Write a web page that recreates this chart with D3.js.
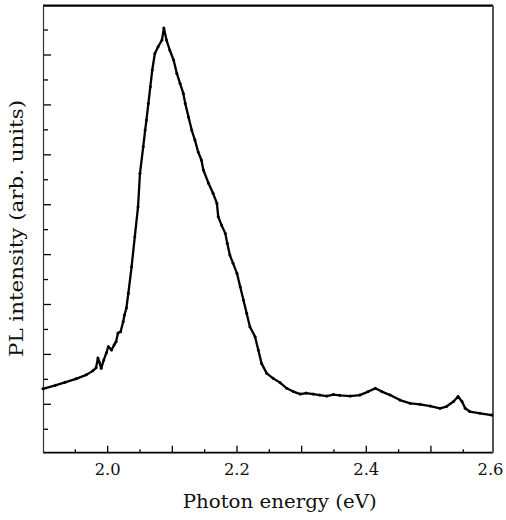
<!DOCTYPE html>
<html>
<head>
<meta charset="utf-8">
<script src="https://cdn.jsdelivr.net/npm/d3@7"></script>
<style>
html,body{margin:0;padding:0;background:#fff;}
svg{display:block;}
</style>
</head>
<body>
<svg id="chart" width="506" height="520"></svg>
<script>
// Photon energy (eV) and PL intensity (arb. units)
const energy = [1.900,1.919,1.934,1.951,1.967,1.977,1.982,1.985,1.987,1.990,1.994,1.998,2.001,2.006,2.010,2.013,2.016,2.020,2.024,2.026,2.029,2.032,2.037,2.042,2.047,2.050,2.055,2.058,2.060,2.063,2.066,2.069,2.073,2.078,2.084,2.087,2.091,2.096,2.102,2.107,2.112,2.117,2.120,2.125,2.130,2.135,2.140,2.145,2.148,2.156,2.163,2.169,2.171,2.176,2.182,2.185,2.189,2.194,2.200,2.205,2.210,2.215,2.220,2.228,2.233,2.238,2.246,2.256,2.267,2.277,2.287,2.298,2.307,2.318,2.328,2.339,2.349,2.359,2.375,2.390,2.403,2.414,2.424,2.437,2.452,2.468,2.483,2.499,2.514,2.524,2.535,2.542,2.548,2.553,2.560,2.576,2.594];
const intensity = [2.62,2.76,2.88,3.02,3.18,3.34,3.46,3.86,3.70,3.44,3.78,4.06,4.31,4.18,4.38,4.51,4.86,4.91,5.31,5.58,5.86,6.45,7.51,8.72,9.92,11.26,12.32,12.99,13.39,14.06,14.73,15.40,16.06,16.33,16.60,17.08,16.60,16.20,15.80,15.26,14.86,14.46,14.06,13.52,12.99,12.59,12.11,11.79,11.39,10.86,10.46,10.05,9.52,9.19,8.85,8.45,7.98,7.65,7.25,6.71,6.18,5.65,5.11,4.71,4.18,3.64,3.24,3.04,2.86,2.64,2.51,2.41,2.45,2.41,2.37,2.33,2.39,2.36,2.33,2.37,2.51,2.64,2.51,2.37,2.17,2.04,2.00,1.93,1.84,1.91,2.11,2.31,2.11,1.84,1.71,1.64,1.57];
const xTickLabels = ["2.0","2.2","2.4","2.6"];
const xLabel = "Photon energy (eV)";
const yLabel = "PL intensity (arb. units)";

const svg = d3.select("#chart");
const L = 43, R = 493, T = 5.6, B = 452.7;

const x = d3.scaleLinear().domain([1.9, 2.596]).range([L, R]);
const y = d3.scaleLinear().domain([0.06, 17.98]).range([B, T]);

// x ticks (inward)
const xMajor = d3.range(2.0, 2.55, 0.1);
const xMinor = d3.range(1.95, 2.59, 0.1);
const gx = svg.append("g");
gx.selectAll("line.maj").data(xMajor).enter().append("line")
  .attr("x1", d => x(d)).attr("x2", d => x(d))
  .attr("y1", B).attr("y2", B - 7)
  .attr("stroke", "#000").attr("stroke-width", 1.3);
gx.selectAll("line.min").data(xMinor).enter().append("line")
  .attr("x1", d => x(d)).attr("x2", d => x(d))
  .attr("y1", B).attr("y2", B - 3.5)
  .attr("stroke", "#000").attr("stroke-width", 1.3);
gx.selectAll("text").data(xTickLabels).enter().append("text")
  .attr("x", d => Math.min(x(+d), 490.5)).attr("y", 475)
  .attr("text-anchor", "middle")
  .attr("font-family", "DejaVu Serif")
  .attr("font-size", 16)
  .attr("fill", "#111")
  .attr("textLength", 26).attr("lengthAdjust", "spacingAndGlyphs")
  .text(d => d);

// y ticks (inward)
const yTicks = d3.range(1, 18);
svg.append("g").selectAll("line").data(yTicks).enter().append("line")
  .attr("x1", L).attr("x2", d => L + (d % 2 === 0 ? 8 : 5))
  .attr("y1", d => y(d)).attr("y2", d => y(d))
  .attr("stroke", "#000").attr("stroke-width", 1.3);

// frame
svg.append("line").attr("x1", L).attr("x2", R).attr("y1", T).attr("y2", T)
  .attr("stroke", "#000").attr("stroke-width", 2.4);
svg.append("line").attr("x1", L).attr("x2", R).attr("y1", B).attr("y2", B)
  .attr("stroke", "#000").attr("stroke-width", 1.8);
svg.append("line").attr("x1", L + 0.5).attr("x2", L + 0.5).attr("y1", T).attr("y2", B)
  .attr("stroke", "#333").attr("stroke-width", 1.2);
svg.append("line").attr("x1", R).attr("x2", R).attr("y1", T).attr("y2", B)
  .attr("stroke", "#555").attr("stroke-width", 2);

// data
const pts = energy.map((e, i) => [e, intensity[i]]);
svg.append("path").datum(pts)
  .attr("fill", "none").attr("stroke", "#000")
  .attr("stroke-width", 2.3).attr("stroke-linejoin", "round").attr("stroke-linecap", "round")
  .attr("d", d3.line().x(d => x(d[0])).y(d => y(d[1])));
svg.append("g").selectAll("circle").data(pts).enter().append("circle")
  .attr("cx", d => x(d[0])).attr("cy", d => y(d[1])).attr("r", 1.5).attr("fill", "#000");

// axis labels
svg.append("text")
  .attr("x", (182.7 + 376.7) / 2).attr("y", 508)
  .attr("text-anchor", "middle")
  .attr("font-family", "DejaVu Serif").attr("font-size", 18)
  .attr("fill", "#111")
  .attr("textLength", 194).attr("lengthAdjust", "spacingAndGlyphs")
  .text(xLabel);
svg.append("text")
  .attr("transform", "translate(22.5,228.5) rotate(-90)")
  .attr("text-anchor", "middle")
  .attr("font-family", "DejaVu Serif").attr("font-size", 18)
  .attr("fill", "#111")
  .attr("textLength", 257).attr("lengthAdjust", "spacingAndGlyphs")
  .text(yLabel);
</script>
</body>
</html>
